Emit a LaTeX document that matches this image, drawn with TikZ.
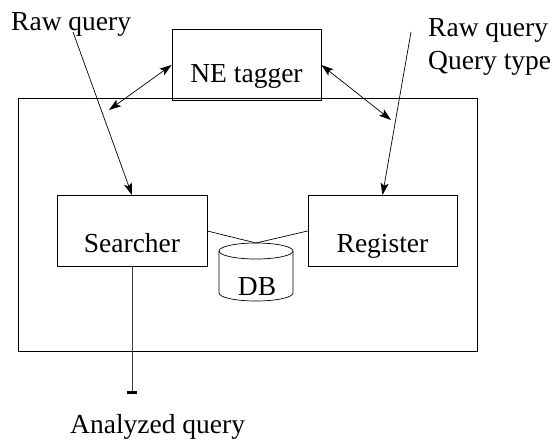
\documentclass[tikz,border=0pt]{standalone}
\usepackage{fontspec}
\setmainfont{Liberation Serif}
\usetikzlibrary{arrows.meta}
\begin{document}
\begin{tikzpicture}[x=1pt,y=1pt,
  every node/.style={font=\fontsize{27.5pt}{33pt}\selectfont},
  boxnode/.style={draw,line width=0.8pt,inner sep=0pt,text height=57pt,text depth=14pt,minimum width=150pt},
  txt/.style={inner sep=0pt,anchor=base west},
  conn/.style={line width=0.7pt},
  arr/.style={conn,-{Stealth[length=12pt,width=8pt,inset=2.5pt]}},
  darr/.style={conn,{Stealth[length=12pt,width=8pt,inset=2.5pt]}-{Stealth[length=12pt,width=8pt,inset=2.5pt]}}]
\useasboundingbox (0,0) rectangle (554,440);
% outer frame
\draw[line width=0.9pt] (18,89) rectangle (477,342);
% nodes
\node[boxnode,text height=53pt,text depth=18pt,minimum width=149pt] (ne) at (246.5,375) {NE tagger};
\node[boxnode] (searcher) at (132,209) {Searcher};
\node[boxnode,minimum width=149pt] (register) at (382.5,209) {Register};
% DB cylinder
\draw[line width=0.7pt] (256,189) ellipse [x radius=37pt, y radius=8pt];
\draw[line width=0.7pt] (219,189) -- (219,147) arc[start angle=180,end angle=360,x radius=37pt,y radius=8pt] -- (293,189);
\coordinate (dbtop) at (256,197);
\node[inner sep=0pt,anchor=base] (db) at (257,145) {DB};
% texts
\node[txt] (rq1) at (11,409) {Raw query};
\node[txt] (rq2) at (428,403) {Raw query};
\node[txt] (qt) at (428,370) {Query type};
\node[txt] (aq) at (70,7) {Analyzed query};
% free ends
\coordinate (inL) at (73,408);
\coordinate (inR) at (411,408);
\coordinate (dL) at (109,330);
\coordinate (dR) at (391,320);
\coordinate (outS) at (132,46);
% connectors
\draw[arr] (inL) -- (searcher.north);
\draw[arr] (inR) -- (register.north);
\draw[darr] (ne.west) -- (dL);
\draw[darr] (ne.east) -- (dR);
\draw[conn] (searcher.east) -- (dbtop);
\draw[conn] (register.west) -- (dbtop);
\draw[conn,draw=black!75,-{Rectangle[length=3pt,width=10pt,color=black]}] (searcher.south) -- (outS);
\end{tikzpicture}
\end{document}
